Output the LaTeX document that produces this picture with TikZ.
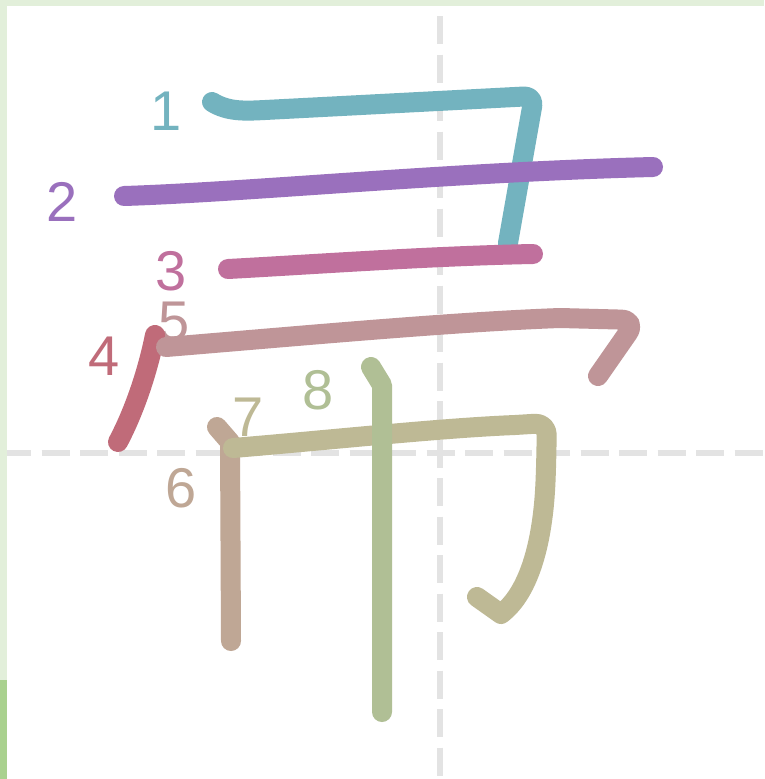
\documentclass[tikz,border=0pt]{standalone}
\usepackage{fontspec}
\setmainfont{Liberation Sans}
\usepackage{tikz}
\usetikzlibrary{positioning}
\usepackage{xcolor}
\definecolor{bandlight}{HTML}{E2EFDA}
\definecolor{banddark}{HTML}{A9D18E}
\definecolor{guide}{HTML}{E3E3E3}
\definecolor{sone}{HTML}{73B3BF}
\definecolor{stwo}{HTML}{9A70BD}
\definecolor{sthree}{HTML}{C0709D}
\definecolor{sfour}{HTML}{C06B79}
\definecolor{sfive}{HTML}{BF9598}
\definecolor{ssix}{HTML}{BFA795}
\definecolor{sseven}{HTML}{BEB995}
\definecolor{seight}{HTML}{B0BF95}

\begin{document}
\begin{tikzpicture}[x=1pt,y=-1pt, every node/.style={font=\fontsize{56}{56}\selectfont,inner sep=0pt},
 brush/.style={line width=20pt,line cap=round,line join=round},
 guideline/.style={guide,line width=6pt,dash pattern=on 28pt off 10.5pt}]
 \useasboundingbox (0,0) rectangle (764,779);
 \fill[white] (0,0) rectangle (764,779);
 % guides
 \draw[guideline] (440,16) -- (440,779);
 \draw[guideline] (3,453) -- (764,453);
 % frame
 \fill[bandlight] (0,0) rectangle (764,6);
 \fill[bandlight] (0,0) rectangle (7,680);
 \fill[banddark] (0,680) rectangle (7,779);
 % numbers
 \node[text=sone] (n1) at (166,111) {1};
 \node[text=stwo] (n2) at (62,202) {2};
 \node[text=sthree] (n3) at (171,271) {3};
 \node[text=sfour] (n4) at (104,356) {4};
 \node[text=sfive] (n5) at (174,322) {5};
 \node[text=ssix] (n6) at (181,488) {6};
 \node[text=sseven] (n7) at (248,417) {7};
 \node[text=seight] (n8) at (318,390) {8};
 % strokes
 \draw[brush,sone] (212,102) .. controls (228,112) and (245,111) .. (265,110)
   [rounded corners=10pt] -- (534,96) -- (508,243);
 \draw[brush,stwo] (124,196) .. controls (250,192) and (450,172) .. (653,167);
 \draw[brush,sthree] (228,269) .. controls (320,264) and (430,256) .. (533,254);
 \draw[brush,sfour] (155,335) .. controls (148,370) and (135,410) .. (118,442);
 \draw[brush,sfive] (166,347) .. controls (300,336) and (450,322) .. (560,318)
   [rounded corners=16pt] -- (637,320) -- (598,376);
 \draw[brush,ssix] (217,427) -- (230,442) -- (231,641);
 \draw[brush,sseven] (233,448) .. controls (330,440) and (440,428) .. (515,425)
   [rounded corners=12pt] -- (547,423) -- (546,470) [sharp corners]
   .. controls (543,540) and (530,592) .. (501,614) -- (477,597);
 \draw[brush,seight] (371,367) -- (382,385) -- (382,712);
\end{tikzpicture}
\end{document}
